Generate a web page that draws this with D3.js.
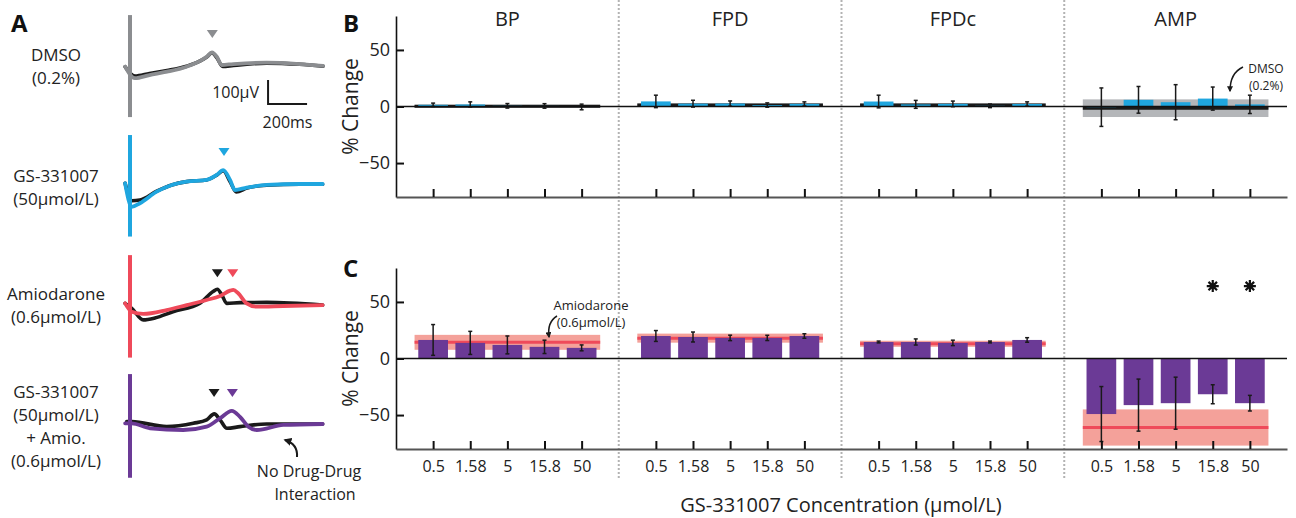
<!DOCTYPE html>
<html>
<head>
<meta charset="utf-8">
<script src="https://cdn.jsdelivr.net/npm/d3@7"></script>
<style>
  body { margin: 0; background: #fff; }
  svg { display: block; font-family: "Open Sans", "Noto Sans", sans-serif; }
</style>
</head>
<body>
<svg id="fig" width="1296" height="518"></svg>
<script>
// ---------- Panels B & C: % change from baseline ----------
const params = ["BP", "FPD", "FPDc", "AMP"];
const concentrations = ["0.5", "1.58", "5", "15.8", "50"];
const yTicks = [-50, 0, 50];

// GS-331007 alone (mean, SD) per parameter x concentration
const gsMean = [
  [1.5, 1.8, 0.6, 0.5, -0.4],
  [4.5, 2.5, 2.6, 1.3, 2.3],
  [4.4, 1.9, 2.3, 0.6, 2.2],
  [-0.6, 5.9, 3.8, 7.0, 1.9]
];
const gsErr = [
  [1.5, 2.3, 2.0, 2.0, 2.5],
  [5.5, 3.0, 2.3, 1.9, 1.8],
  [5.6, 3.5, 2.5, 1.6, 1.9],
  [17.0, 11.8, 15.5, 10.2, 8.1]
];
// DMSO vehicle reference (mean, SD)
const dmsoMean = [0.2, 1.3, 1.3, -1.5];
const dmsoErr = [1.3, 1.5, 1.5, 7.8];

// GS-331007 + amiodarone (mean, SD)
const comboMean = [
  [16.4, 13.8, 12.0, 10.3, 9.4],
  [19.9, 19.0, 18.2, 18.2, 19.9],
  [14.6, 14.6, 13.8, 14.6, 16.4],
  [-49.1, -41.2, -39.5, -31.6, -39.5]
];
const comboErr = [
  [13.6, 10.2, 7.9, 5.9, 2.6],
  [4.8, 4.4, 2.4, 2.3, 2.0],
  [0.8, 2.7, 2.4, 0.8, 2.0],
  [24.3, 23.0, 23.0, 8.4, 6.9]
];
// Amiodarone alone reference (mean, SD)
const amioMean = [14.3, 18.0, 13.0, -61.0];
const amioErr = [6.6, 4.0, 2.7, 16.0];
// significance flags (combo vs amiodarone)
const comboSig = [
  [0, 0, 0, 0, 0],
  [0, 0, 0, 0, 0],
  [0, 0, 0, 0, 0],
  [0, 0, 0, 1, 1]
];

// ---------- Panel A: field potential traces (t in ms, v in µV) ----------
const dmsoCtrl = [[-25,-7],[25,-46],[100,-35],[190,-23],[290,-5],[360,17],[395,34],[420,51],[445,31],[475,-6],[530,-2],[700,8],[870,3],[990,-5]];
const dmsoDrug = [[-25,-7],[25,-55],[100,-42],[190,-28],[290,-7],[360,17],[395,35],[420,53],[445,35],[470,0],[530,4],[700,10],[870,4],[990,-4]];
const gsCtrl = [[-25,3],[9,-70],[51,-67],[137,-30],[214,-4],[291,10],[393,17],[445,37],[478,55],[513,10],[545,-33],[600,-17],[701,-5],[872,-1],[988,-1]];
const gsDrug = [[-25,3],[9,-95],[51,-80],[137,-32],[214,-4],[291,10],[393,17],[445,38],[478,58],[513,17],[538,-25],[598,-15],[701,-4],[872,0],[988,0]];
const amioCtrl = [[-25,11],[9,-10],[68,-58],[128,-50],[220,-24],[359,12],[426,60],[448,70],[471,46],[496,11],[564,14],[701,15],[988,4]];
const amioDrug = [[-25,11],[9,-24],[68,-33],[188,-17],[291,4],[393,25],[462,42],[513,64],[530,67],[555,53],[598,11],[650,-3],[786,0],[988,4]];
const comboCtrl = [[-17,10],[9,10],[188,-11],[325,3],[393,17],[432,42],[462,17],[497,-18],[564,-11],[701,0],[988,0]];
const comboDrug = [[-25,3],[9,3],[103,-18],[273,-25],[393,-11],[462,24],[522,55],[564,30],[607,-11],[650,-25],[786,-4],[988,0]];
const spikeTop = [208, 204, 212, 208];
const spikeBottom = [-217, -219, -215, -224];
const peakMarkT = [[422], [482], [448, 527], [431, 525]];
const peakMarkV = [129, 133, 136, 129];
const rowLabels = [
  ["DMSO", "(0.2%)"],
  ["GS-331007", "(50\u00b5mol/L)"],
  ["Amiodarone", "(0.6\u00b5mol/L)"],
  ["GS-331007", "(50\u00b5mol/L)", "+ Amio.", "(0.6\u00b5mol/L)"]
];

// ---------- styling ----------
const C = {
  gray: "#8b8d90", blue: "#1fa6df", red: "#ef4a5a", purple: "#6b3a96",
  dmsoBand: "#b4b6b9", amioBand: "#f4a19a", black: "#1a1a1a"
};
const drugColor = [C.gray, C.blue, C.red, C.purple];
const markColor = [[C.gray], [C.blue], [C.black, C.red], [C.black, C.purple]];

const svg = d3.select("#fig");

// arrowhead marker
svg.append("defs").append("marker")
  .attr("id", "ah").attr("viewBox", "0 0 10 10").attr("refX", 8).attr("refY", 5)
  .attr("markerWidth", 4).attr("markerHeight", 4).attr("orient", "auto")
  .append("path").attr("d", "M0,0L10,5L0,10z").attr("fill", "#1a1a1a");

// ================= Panel A =================
const tScale = d3.scaleLinear().domain([0, 1000]).range([130, 325]);
const rowBase = [65, 184, 306, 424];
const traces = [[dmsoCtrl, dmsoDrug], [gsCtrl, gsDrug], [amioCtrl, amioDrug], [comboCtrl, comboDrug]];
const rowLabelY = [[61, 84], [182, 205], [300, 323], [398, 421, 444, 467]];

traces.forEach(([ctrl, drug], r) => {
  const vScale = d3.scaleLinear().domain([0, 100]).range([rowBase[r], rowBase[r] - 24]);
  const line = d3.line().x(d => tScale(d[0])).y(d => vScale(d[1])).curve(d3.curveMonotoneX);
  const g = svg.append("g");
  g.append("path").attr("d", line(ctrl)).attr("fill", "none").attr("stroke", C.black)
    .attr("stroke-width", 3.6).attr("stroke-linejoin", "round").attr("stroke-linecap", "round");
  g.append("path").attr("d", line(drug)).attr("fill", "none").attr("stroke", drugColor[r])
    .attr("stroke-width", 3.8).attr("stroke-linejoin", "round").attr("stroke-linecap", "round");
  g.append("line").attr("x1", tScale(0)).attr("x2", tScale(0))
    .attr("y1", vScale(spikeTop[r])).attr("y2", vScale(spikeBottom[r]))
    .attr("stroke", drugColor[r]).attr("stroke-width", 4);
  // peak markers
  peakMarkT[r].forEach((t, k) => {
    const x = tScale(t), y = vScale(peakMarkV[r]);
    g.append("path").attr("d", `M${x - 5.5},${y - 4}L${x + 5.5},${y - 4}L${x},${y + 4}Z`)
      .attr("fill", markColor[r][k]);
  });
  // row labels
  rowLabels[r].forEach((s, k) => {
    svg.append("text").attr("x", 56).attr("y", rowLabelY[r][k]).attr("text-anchor", "middle")
      .attr("font-size", 17).attr("fill", "#222").text(s);
  });
});

// scale bar (100 µV / 200 ms), drawn with the DMSO row scales
{
  const vScale = d3.scaleLinear().domain([0, 100]).range([rowBase[0], rowBase[0] - 24]);
  const t0 = 708, v0 = -162;
  svg.append("path")
    .attr("d", `M${tScale(t0)},${vScale(v0 + 100)}V${vScale(v0)}H${tScale(t0 + 200)}`)
    .attr("fill", "none").attr("stroke", C.black).attr("stroke-width", 2);
  svg.append("text").attr("x", tScale(t0) - 9).attr("y", 98).attr("text-anchor", "end")
    .attr("font-size", 16).attr("fill", "#222").text("100\u00b5V");
  svg.append("text").attr("x", tScale(t0 + 100)).attr("y", 128).attr("text-anchor", "middle")
    .attr("font-size", 16).attr("fill", "#222").text("200ms");
}

// interaction note
svg.append("text").attr("x", 309).attr("y", 477).attr("text-anchor", "middle")
  .attr("font-size", 16).attr("fill", "#222").text("No Drug-Drug");
svg.append("text").attr("x", 315).attr("y", 500).attr("text-anchor", "middle")
  .attr("font-size", 16).attr("fill", "#222").text("Interaction");
svg.append("path").attr("d", "M297,457Q298,444 285,440").attr("fill", "none")
  .attr("stroke", "#1a1a1a").attr("stroke-width", 2).attr("marker-end", "url(#ah)");

// ================= Panels B & C =================
const xs = d3.scaleLinear().domain([-1, 23]).range([396, 1287]);
const slot = xs(1) - xs(0);
const barW = slot * 0.8;
const pos = (g, i) => g * 6 + i;
const allPos = [];
params.forEach((p, g) => concentrations.forEach((c, i) => allPos.push(pos(g, i))));

function drawPanel(y, means, errs, refMean, refErr, bandColor, lineColor, barColor, showLabels) {
  const g = svg.append("g");
  params.forEach((p, gi) => {
    const x0 = xs(pos(gi, 0)) - slot / 2, x1 = xs(pos(gi, 4)) + slot / 2;
    g.append("rect").attr("x", x0).attr("width", x1 - x0)
      .attr("y", y(refMean[gi] + refErr[gi])).attr("height", y(refMean[gi] - refErr[gi]) - y(refMean[gi] + refErr[gi]))
      .attr("fill", bandColor);
    g.append("line").attr("x1", x0).attr("x2", x1).attr("y1", y(refMean[gi])).attr("y2", y(refMean[gi]))
      .attr("stroke", lineColor).attr("stroke-width", 3);
    means[gi].forEach((v, i) => {
      const cx = xs(pos(gi, i));
      g.append("rect").attr("x", cx - barW / 2).attr("width", barW)
        .attr("y", Math.min(y(v), y(0))).attr("height", Math.abs(y(v) - y(0)))
        .attr("fill", barColor);
    });
  });
  // error bars
  params.forEach((p, gi) => {
    means[gi].forEach((v, i) => {
      const cx = xs(pos(gi, i)), e = errs[gi][i];
      const eg = g.append("g").attr("stroke", "#1a1a1a").attr("stroke-width", 1.5);
      eg.append("line").attr("x1", cx).attr("x2", cx).attr("y1", y(v - e)).attr("y2", y(v + e));
      eg.append("line").attr("x1", cx - 2).attr("x2", cx + 2).attr("y1", y(v - e)).attr("y2", y(v - e));
      eg.append("line").attr("x1", cx - 2).attr("x2", cx + 2).attr("y1", y(v + e)).attr("y2", y(v + e));
    });
  });
  // zero line
  g.append("line").attr("x1", xs.range()[0]).attr("x2", xs.range()[1]).attr("y1", y(0)).attr("y2", y(0))
    .attr("stroke", "#111").attr("stroke-width", 1.5);
  // y axis
  const ya = g.append("g").attr("transform", `translate(${xs.range()[0]},0)`)
    .call(d3.axisLeft(y).tickValues(yTicks).tickSizeInner(-8).tickSizeOuter(0).tickPadding(6));
  ya.select(".domain").attr("stroke-width", 1.6).attr("stroke", "#111");
  ya.selectAll(".tick line").attr("stroke-width", 2).attr("stroke", "#111");
  ya.selectAll(".tick text").attr("font-size", 18).attr("font-family", "Open Sans").attr("fill", "#222");
  // x axis
  const xa = g.append("g").attr("transform", `translate(0,${y.range()[0]})`)
    .call(d3.axisBottom(xs).tickValues(allPos).tickSizeInner(-8).tickSizeOuter(0).tickPadding(12)
      .tickFormat(p => showLabels ? concentrations[p % 6] : ""));
  xa.select(".domain").attr("stroke-width", 2).attr("stroke", "#555");
  xa.selectAll(".tick line").attr("stroke-width", 2).attr("stroke", "#111");
  xa.selectAll(".tick text").attr("font-size", 16).attr("font-family", "Open Sans").attr("fill", "#222");
  // y label
  const mid = y(0);
  g.append("text").attr("transform", `translate(358,${mid}) rotate(-90)`).attr("text-anchor", "middle")
    .attr("font-size", 21).attr("fill", "#222").text("% Change");
  return g;
}

// dotted separators between parameters
[5, 11, 17].forEach(p => {
  svg.append("line").attr("x1", xs(p)).attr("x2", xs(p)).attr("y1", 0).attr("y2", 480)
    .attr("stroke", "#b3b3b3").attr("stroke-width", 2).attr("stroke-dasharray", "2,2");
});

const yB = d3.scaleLinear().domain([-80, 80]).range([197, 16]);
const yC = d3.scaleLinear().domain([-80, 80]).range([449, 268]);
drawPanel(yB, gsMean, gsErr, dmsoMean, dmsoErr, C.dmsoBand, C.black, C.blue, false);
drawPanel(yC, comboMean, comboErr, amioMean, amioErr, C.amioBand, C.red, C.purple, true);

// parameter headers
params.forEach((p, g) => {
  svg.append("text").attr("x", xs(pos(g, 2))).attr("y", 26).attr("text-anchor", "middle")
    .attr("font-size", 20).attr("fill", "#222").text(p);
});

// significance asterisks
comboSig.forEach((row, g) => row.forEach((s, i) => {
  if (!s) return;
  const cx = xs(pos(g, i)), cy = yC(64), r = 6;
  const d = d3.range(4).map(k => {
    const a = k * Math.PI / 4;
    return `M${cx - r * Math.cos(a)},${cy - r * Math.sin(a)}L${cx + r * Math.cos(a)},${cy + r * Math.sin(a)}`;
  }).join("");
  svg.append("path").attr("d", d).attr("stroke", "#111").attr("stroke-width", 2.2);
}));

// reference annotations
svg.append("text").attr("x", 1266).attr("y", 73).attr("text-anchor", "middle")
  .attr("font-size", 12).attr("fill", "#222").text("DMSO");
svg.append("text").attr("x", 1266).attr("y", 90).attr("text-anchor", "middle")
  .attr("font-size", 12).attr("fill", "#222").text("(0.2%)");
svg.append("path").attr("d", "M1243,67Q1230,73 1230,91").attr("fill", "none")
  .attr("stroke", "#1a1a1a").attr("stroke-width", 1.5).attr("marker-end", "url(#ah)");

svg.append("text").attr("x", 591).attr("y", 310).attr("text-anchor", "middle")
  .attr("font-size", 13).attr("fill", "#222").text("Amiodarone");
svg.append("text").attr("x", 591).attr("y", 327).attr("text-anchor", "middle")
  .attr("font-size", 13).attr("fill", "#222").text("(0.6\u00b5mol/L)");
svg.append("path").attr("d", "M557,316Q547,322 549,337").attr("fill", "none")
  .attr("stroke", "#1a1a1a").attr("stroke-width", 1.5).attr("marker-end", "url(#ah)");

// x axis title
svg.append("text").attr("x", 841).attr("y", 512).attr("text-anchor", "middle")
  .attr("font-size", 20).attr("fill", "#222").text("GS-331007 Concentration (\u00b5mol/L)");

// panel letters
[["A", 11, 32], ["B", 343, 32], ["C", 343, 277]].forEach(([s, x, y]) => {
  svg.append("text").attr("x", x).attr("y", y).attr("font-size", 24).attr("font-weight", 700)
    .attr("fill", "#111").text(s);
});
</script>
</body>
</html>
